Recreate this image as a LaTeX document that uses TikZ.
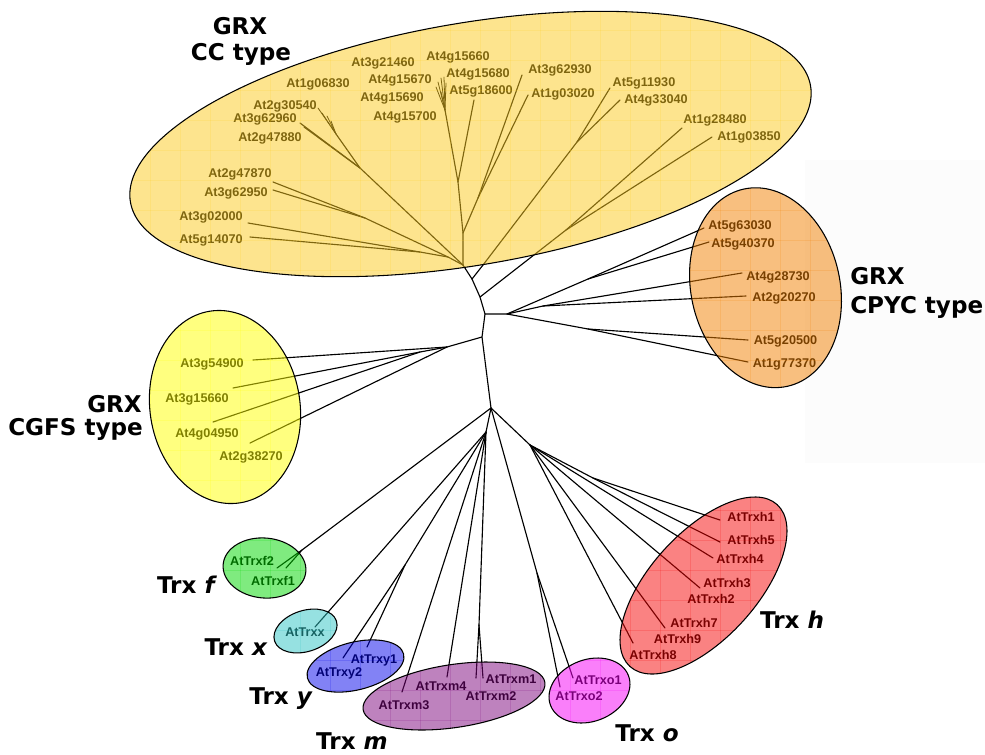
\documentclass[tikz,border=0pt]{standalone}
\usepackage{fontspec}
\setmainfont{Liberation Sans}
\newfontfamily\titlefont{DejaVu Sans}[BoldFont={DejaVu Sans Bold},BoldItalicFont={DejaVu Sans Bold Oblique},ItalicFont={DejaVu Sans Oblique}]
\definecolor{ccC}{RGB}{252,202,30}
\definecolor{cpC}{RGB}{241,128,0}
\definecolor{cgC}{RGB}{255,255,0}
\definecolor{fC}{RGB}{0,215,0}
\definecolor{xC}{RGB}{45,195,195}
\definecolor{yC}{RGB}{5,5,235}
\definecolor{mC}{RGB}{125,5,125}
\definecolor{oC}{RGB}{245,0,245}
\definecolor{hC}{RGB}{245,5,5}
\definecolor{bgR}{RGB}{252,252,252}
\newcommand\grpell[6]{%
  \fill[#6, fill opacity=0.5, rotate around={#5:(#1,#2)}] (#1,#2) ellipse [x radius=#3, y radius=#4];
  \begin{scope}
    \clip[rotate around={#5:(#1,#2)}] (#1,#2) ellipse [x radius=#3, y radius=#4];
    \foreach \gx in {0,30,...,990} \draw[#6, opacity=0.18, line width=0.5pt] (\gx,0) -- (\gx,754);
    \foreach \gy in {0,30,...,750} \draw[#6, opacity=0.18, line width=0.5pt] (0,\gy) -- (985,\gy);
  \end{scope}
  \draw[line width=0.8pt, rotate around={#5:(#1,#2)}] (#1,#2) ellipse [x radius=#3, y radius=#4];
}
\begin{document}
\begin{tikzpicture}[x=0.75pt,y=-0.75pt,
  tree/.style={line width=0.85pt, line cap=round, line join=round},
  lbl/.style={font=\bfseries\fontsize{9.5}{11}\selectfont, inner sep=0pt, text height=6.8pt, text depth=0pt},
  ttl/.style={font=\titlefont\bfseries\fontsize{17.3}{20}\selectfont, inner sep=0pt, text height=12.6pt, text depth=0pt}]
\useasboundingbox (0,0) rectangle (985,754);
\fill[bgR] (805,160) rectangle (985,463);

% ---------- tree coordinates ----------
\coordinate (R) at (463,265);
\coordinate (vt) at (472,279);
\coordinate (CR) at (483,265);
\coordinate (b1) at (480,297);
\coordinate (b2) at (485,314);
\coordinate (b3) at (482,337);
\coordinate (N1) at (491,408);
% CC right
\coordinate (P1) at (577,142);
\coordinate (e11) at (610,88);
\coordinate (e12) at (620,100);
\coordinate (P2) at (566,230);
\coordinate (e13) at (682,128);
\coordinate (e14) at (712,137);
% CC middle
\coordinate (M1) at (463,233);
\coordinate (Q) at (478,198);
\coordinate (e21) at (522,75);
\coordinate (e22) at (528,95);
\coordinate (M2) at (458,182);
\coordinate (e23) at (474,100);
\coordinate (M3) at (445,110);
\coordinate (c1) at (436,87);
\coordinate (c2) at (438,82);
\coordinate (c3) at (441,78);
\coordinate (c4) at (444,77);
\coordinate (c5) at (446,83);
\coordinate (c6) at (441,92);
% CC left
\coordinate (J1) at (448,257);
\coordinate (J4) at (420,252);
\coordinate (e31) at (250,237);
\coordinate (e32) at (248,223);
\coordinate (J2) at (365,218);
\coordinate (e33) at (273,190);
\coordinate (e34) at (273,182);
\coordinate (J3) at (360,168);
\coordinate (e35) at (300,123);
\coordinate (e36) at (304,127);
\coordinate (J5) at (336,134);
\coordinate (d1) at (318,108);
\coordinate (d2) at (322,113);
\coordinate (d3) at (327,116);
\coordinate (d4) at (331,121);
% CPYC
\coordinate (CP0) at (507,314);
\coordinate (CP1) at (588,279);
\coordinate (p1) at (704,228);
\coordinate (p2) at (709,242);
\coordinate (CP2) at (543,306);
\coordinate (p3) at (742,273);
\coordinate (p4) at (746,296);
\coordinate (CP3) at (588,329);
\coordinate (p5) at (748,340);
\coordinate (p6) at (748,362);
% CGFS
\coordinate (G0) at (447,347);
\coordinate (g1) at (253,360);
\coordinate (G1) at (420,352);
\coordinate (g2) at (233,388);
\coordinate (g3) at (213,422);
\coordinate (g4) at (250,443);
% Trx
\coordinate (F0) at (302,550);
\coordinate (f1) at (277,568);
\coordinate (f2) at (286,568);
\coordinate (N2) at (486,432);
\coordinate (x1) at (315,627);
\coordinate (Y0) at (405,565);
\coordinate (y2) at (343,658);
\coordinate (y1) at (367,647);
\coordinate (m3) at (402,692);
\coordinate (m4) at (447,677);
\coordinate (M0) at (479,625);
\coordinate (m2) at (476,678);
\coordinate (m1) at (483,678);
\coordinate (O0) at (537,573);
\coordinate (o2) at (560,687);
\coordinate (o1) at (573,678);
\coordinate (H0) at (530,445);
\coordinate (H1) at (593,478);
\coordinate (h1) at (720,520);
\coordinate (h5) at (720,542);
\coordinate (h4) at (713,558);
\coordinate (h3) at (700,588);
\coordinate (h7) at (665,628);
\coordinate (h8) at (633,643);

% ---------- tree branches ----------
\draw[tree] (R) -- (vt) -- (CR);
\draw[tree] (vt) -- (b1) -- (b2) -- (b3) -- (N1);
\draw[tree] (CR) -- (P1) -- (e11);
\draw[tree] (P1) -- (e12);
\draw[tree] (b1) -- (P2) -- (e13);
\draw[tree] (P2) -- (e14);
\draw[tree] (R) -- (M1) -- (Q) -- (e21);
\draw[tree] (Q) -- (e22);
\draw[tree] (M1) -- (M2) -- (e23);
\draw[tree] (M2) -- (M3);
\foreach \c in {c1,c2,c3,c4,c5,c6} \draw[tree, line width=0.6pt] (M3) -- (\c);
\draw[tree] (R) -- (J1) -- (J4) -- (e31);
\draw[tree] (J4) -- (e32);
\draw[tree] (J1) -- (J2) -- (e33);
\draw[tree] (J2) -- (e34);
\draw[tree] (R) -- (J3) -- (e35);
\draw[tree] (J3) -- (e36);
\draw[tree] (J3) -- (J5);
\foreach \c in {d1,d2,d3,d4} \draw[tree, line width=0.6pt] (J5) -- (\c);
\draw[tree] (b2) -- (CP0) -- (CP1) -- (p1);
\draw[tree] (CP1) -- (p2);
\draw[tree] (CP0) -- (CP2) -- (p3);
\draw[tree] (CP2) -- (p4);
\draw[tree] (CP0) -- (CP3) -- (p5);
\draw[tree] (CP3) -- (p6);
\draw[tree] (b3) -- (G0) -- (g1);
\draw[tree] (G0) -- (G1) -- (g2);
\draw[tree] (G1) -- (g3);
\draw[tree] (G0) -- (g4);
\draw[tree] (N1) -- (F0) -- (f1);
\draw[tree] (F0) -- (f2);
\draw[tree] (N1) -- (N2) -- (x1);
\draw[tree] (N2) -- (Y0) -- (y2);
\draw[tree] (Y0) -- (y1);
\draw[tree] (N2) -- (m3);
\draw[tree] (N2) -- (m4);
\draw[tree] (N2) -- (M0) -- (m2);
\draw[tree] (M0) -- (m1);
\draw[tree] (N1) -- (O0) -- (o2);
\draw[tree] (O0) -- (o1);
\draw[tree] (N1) -- (H0) -- (H1) -- (h1);
\draw[tree] (H1) -- (h5);
\draw[tree] (H0) -- (h4);
\draw[tree] (H0) -- (h3);
\draw[tree] (H0) -- (h7);
\draw[tree] (H0) -- (h8);

% ---------- leaf labels ----------
\node[lbl] (t01) at (383,62) {At3g21460};
\node[lbl] (t02) at (318,83) {At1g06830};
\node[lbl] (t03) at (400,79) {At4g15670};
\node[lbl] (t04) at (392,97) {At4g15690};
\node[lbl] (t05) at (405,116) {At4g15700};
\node[lbl] (t06) at (285,105) {At2g30540};
\node[lbl] (t07) at (265,118) {At3g62960};
\node[lbl] (t08) at (270,137) {At2g47880};
\node[lbl] (t09) at (240,173) {At2g47870};
\node[lbl] (t10) at (236,192) {At3g62950};
\node[lbl] (t11) at (211,216) {At3g02000};
\node[lbl] (t12) at (211,239) {At5g14070};
\node[lbl] (t13) at (458,56) {At4g15660};
\node[lbl] (t14) at (478,73) {At4g15680};
\node[lbl] (t15) at (481,90) {At5g18600};
\node[lbl] (t16) at (560,69) {At3g62930};
\node[lbl] (t17) at (563,93) {At1g03020};
\node[lbl] (t18) at (644,82) {At5g11930};
\node[lbl] (t19) at (656,99) {At4g33040};
\node[lbl] (t20) at (715,119) {At1g28480};
\node[lbl] (t21) at (749,136) {At1g03850};
\node[lbl] (u1) at (740,225) {At5g63030};
\node[lbl] (u2) at (743,243) {At5g40370};
\node[lbl] (u3) at (778,276) {At4g28730};
\node[lbl] (u4) at (784,297) {At2g20270};
\node[lbl] (u5) at (785.5,340) {At5g20500};
\node[lbl] (u6) at (784.5,362.5) {At1g77370};
\node[lbl] (v1) at (212,363) {At3g54900};
\node[lbl] (v2) at (197,398) {At3g15660};
\node[lbl] (v3) at (207,433) {At4g04950};
\node[lbl] (v4) at (251,456) {At2g38270};
\node[lbl] (w1) at (252,561) {AtTrxf2};
\node[lbl] (w2) at (273,581) {AtTrxf1};
\node[lbl] (w3) at (305,632) {AtTrxx};
\node[lbl] (w4) at (374,659) {AtTrxy1};
\node[lbl] (w5) at (339,672) {AtTrxy2};
\node[lbl] (w6) at (441,686) {AtTrxm4};
\node[lbl] (w7) at (511,679) {AtTrxm1};
\node[lbl] (w8) at (404,705) {AtTrxm3};
\node[lbl] (w9) at (491,696) {AtTrxm2};
\node[lbl] (w10) at (598,680) {AtTrxo1};
\node[lbl] (w11) at (579,696) {AtTrxo2};
\node[lbl] (w12) at (751,517) {AtTrxh1};
\node[lbl] (w13) at (751,540) {AtTrxh5};
\node[lbl] (w14) at (740,559) {AtTrxh4};
\node[lbl] (w15) at (727,583) {AtTrxh3};
\node[lbl] (w16) at (711,599) {AtTrxh2};
\node[lbl] (w17) at (694,623) {AtTrxh7};
\node[lbl] (w18) at (677.5,639) {AtTrxh9};
\node[lbl] (w19) at (653,655) {AtTrxh8};

% ---------- group ellipses (translucent overlays) ----------
\grpell{470.5}{144}{345}{121}{9.7}{ccC}
\grpell{765.5}{287.7}{74.5}{101}{12.5}{cpC}
\grpell{225}{407}{75}{97}{9}{cgC}
\grpell{264.5}{568}{41.5}{30}{-5}{fC}
\grpell{305.5}{631}{32.5}{20.5}{18}{xC}
\grpell{355.5}{666}{49.6}{23.9}{14}{yC}
\grpell{454}{696}{91.9}{31.5}{8.5}{mC}
\grpell{589.5}{690.5}{41.7}{30.9}{21}{oC}
\grpell{703.5}{585.5}{109.4}{53.2}{47.7}{hC}

% ---------- group titles ----------
\node[ttl] (gcc1) at (240,26.5) {GRX};
\node[ttl] (gcc2) at (241,52.5) {CC type};
\node[ttl, anchor=west] (gcp1) at (850,276.4) {GRX};
\node[ttl, anchor=west] (gcp2) at (850,305) {CPYC type};
\node[ttl, anchor=east] (gcg1) at (142,403.7) {GRX};
\node[ttl, anchor=east] (gcg2) at (143,426.7) {CGFS type};
\node[ttl] (tf) at (187,585) {Trx \textit{f}};
\node[ttl] (tx) at (236,647) {Trx \textit{x}};
\node[ttl] (ty) at (281,696) {Trx \textit{y}};
\node[ttl] (tm) at (352,741.5) {Trx \textit{m}};
\node[ttl] (to) at (647,733) {Trx \textit{o}};
\node[ttl] (th) at (792,620) {Trx \textit{h}};
\end{tikzpicture}
\end{document}
